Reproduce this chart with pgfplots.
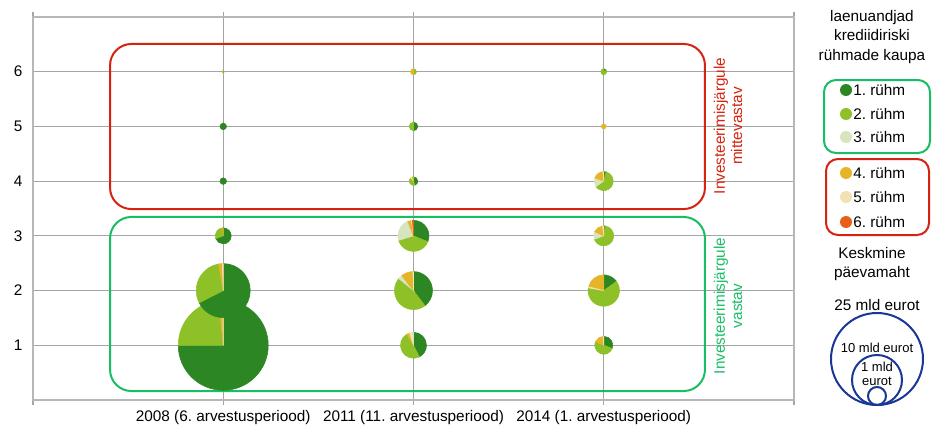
\documentclass[border=0pt]{standalone}
\usepackage{pgfplots}
\pgfplotsset{compat=1.18}
\usepackage{pgfplotstable}
\usepackage{fontspec}
\setmainfont{Liberation Sans}

\definecolor{gA}{RGB}{43,134,35}
\definecolor{gB}{RGB}{141,193,39}
\definecolor{gC}{RGB}{214,229,190}
\definecolor{gD}{RGB}{230,180,40}
\definecolor{gE}{RGB}{243,225,180}
\definecolor{gF}{RGB}{232,96,24}
\definecolor{boxred}{RGB}{212,35,15}
\definecolor{boxgreen}{RGB}{25,190,100}
\definecolor{navy}{RGB}{25,55,150}
\definecolor{gridgray}{RGB}{165,165,165}

% x = category, y = row, r = radius (px), a/b = slice start/end (deg clockwise from 12 o'clock)
\pgfplotstableread{
x y r a b
1 1 45 0 270
1 2 27 0 243
1 3 8 0 250
1 4 3.3 0 360
1 5 3.3 0 360
2 1 13 0 153
2 2 19 0 143
2 3 15.5 0 112
2 4 4.3 0 160
2 5 4.3 0 180
3 1 9 0 110
3 2 15.7 0 54
3 3 10 0 8
3 4 9.5 0 15
3 6 3 0 60
}\gone
\pgfplotstableread{
x y r a b
1 1 45 270 354
1 2 27 243 350
1 3 8 250 355
1 6 1.2 0 360
2 1 13 153 328
2 2 19 143 309
2 3 15.5 112 253
2 4 4.3 160 320
2 5 4.3 180 360
2 6 3 0 180
3 1 9 110 293
3 2 15.7 54 280
3 3 10 8 250
3 4 9.5 15 235
3 6 3 60 360
}\gtwo
\pgfplotstableread{
x y r a b
2 1 13 352 360
2 2 19 309 322
2 3 15.5 253 338
2 4 4.3 320 345
3 3 10 250 295
3 4 9.5 235 290
}\gthree
\pgfplotstableread{
x y r a b
1 1 45 354 359
1 2 27 350 358
1 3 8 355 360
2 1 13 328 342
2 2 19 322 358
2 3 15.5 338 352
2 4 4.3 345 360
2 6 3 180 360
3 1 9 293 355
3 2 15.7 284 360
3 3 10 295 353
3 4 9.5 290 355
3 5 2.5 0 360
}\gfour
\pgfplotstableread{
x y r a b
1 1 45 359 360
1 2 27 358 360
2 1 13 342 352
2 2 19 358 360
2 3 15.5 352 356
3 1 9 355 360
3 2 15.7 280 284
3 3 10 353 360
3 4 9.5 355 360
}\gfive
\pgfplotstableread{
x y r a b
2 3 15.5 356 360
}\gsix

\pgfplotsset{
  pie/.style={
    only marks, scatter, mark=*, mark size=0pt,
    mark options={draw=none,fill=none},
    visualization depends on={\thisrow{r} \as \sR},
    visualization depends on={\thisrow{a} \as \sA},
    visualization depends on={\thisrow{b} \as \sB},
    scatter/@pre marker code/.code={%
      \pgfmathsetmacro\rpt{0.75*\sR}%
      \pgfmathsetmacro\tA{90-\sA}%
      \pgfmathsetmacro\tB{90-\sB}%
      \fill[#1] (0,0) -- (\tA:\rpt pt) arc[start angle=\tA, end angle=\tB, radius=\rpt pt] -- cycle;
    },
    scatter/@post marker code/.code={},
  },
}

\begin{document}
\frenchspacing
\fontsize{11.5}{14}\selectfont
\begin{tikzpicture}
\useasboundingbox (-24.75pt,-19.5pt) rectangle (675pt,300pt);
\begin{axis}[
  scale only axis,
  width=570.75pt, height=287.25pt,
  xmin=0, xmax=4, ymin=0, ymax=7,
  xtick={0,1,2,3,4},
  xticklabels={,2008 (6. arvestusperiood),2011 (11. arvestusperiood),2014 (1. arvestusperiood),},
  ytick={1,2,3,4,5,6},
  xmajorgrids, ymajorgrids,
  grid style={gridgray, line width=0.8pt},
  axis line style={gridgray!80, line width=0.8pt},
  tick align=outside,
  major tick length=4pt,
  xtick style={gridgray, line width=0.8pt},
  ytick style={draw=none},
  ticklabel style={font=\fontsize{11.5}{14}\selectfont},
  /pgf/number format/assume math mode=true,
  clip=false,
]
\draw[boxred, line width=1.5pt, rounded corners=16pt]
  (axis cs:0.405,3.49) rectangle (axis cs:3.532,6.507);
\draw[boxgreen, line width=1.5pt, rounded corners=16pt]
  (axis cs:0.405,0.164) rectangle (axis cs:3.532,3.345);

% first pass: bottom row (so the 2008 row-2 pie sits on top of the row-1 pie)
\addplot[pie=gA, restrict y to domain=0:1.5] table {\gone};
\addplot[pie=gB, restrict y to domain=0:1.5] table {\gtwo};
\addplot[pie=gC, restrict y to domain=0:1.5] table {\gthree};
\addplot[pie=gD, restrict y to domain=0:1.5] table {\gfour};
\addplot[pie=gE, restrict y to domain=0:1.5] table {\gfive};
% second pass: rows 2..6
\addplot[pie=gA, restrict y to domain=1.5:7] table {\gone};
\addplot[pie=gB, restrict y to domain=1.5:7] table {\gtwo};
\addplot[pie=gC, restrict y to domain=1.5:7] table {\gthree};
\addplot[pie=gD, restrict y to domain=1.5:7] table {\gfour};
\addplot[pie=gE, restrict y to domain=1.5:7] table {\gfive};
\addplot[pie=gF, restrict y to domain=1.5:7] table {\gsix};
\end{axis}

\begin{scope}[x=0.75pt, y=0.75pt]
% box captions
\node[rotate=90, align=center, text=boxred, font=\fontsize{11.5}{13}\selectfont]
  at (695,274) {Investeerimisjärgule\\mittevastav};
\node[rotate=90, align=center, text=boxgreen, font=\fontsize{11.5}{13}\selectfont]
  at (695,94) {Investeerimisjärgule\\vastav};

% legend
\node[align=center, font=\fontsize{11.5}{14.6}\selectfont] at (839,363)
  {laenuandjad\\krediidiriski\\rühmade kaupa};
\draw[boxgreen, line width=1.5pt, rounded corners=9pt] (791,320) rectangle (897,247);
\draw[boxred, line width=1.5pt, rounded corners=9pt] (793,241) rectangle (896,165);
\foreach \yy/\cc/\tt in {310/gA/1, 286/gB/2, 263/gC/3, 227/gD/4, 203/gE/5, 178/gF/6}{
  \fill[\cc] (813,\yy) circle[radius=4.5pt];
  \node[anchor=west, inner sep=0pt] at (820,\yy) {\tt. rühm};
}
\node[align=center, font=\fontsize{11.5}{14}\selectfont] at (839,136) {Keskmine\\päevamaht};
\node at (844,95) {25 mld eurot};
\draw[navy, line width=1.5pt] (844,41) circle[radius=34.5pt];
\draw[navy, line width=1.5pt] (844,20) circle[radius=18.75pt];
\draw[navy, line width=1.5pt] (844,4) circle[radius=6.75pt];
\node[font=\fontsize{9.75}{11}\selectfont] at (844,52) {10 mld eurot};
\node[align=center, font=\fontsize{9.75}{10.5}\selectfont] at (844,26) {1 mld\\eurot};
\end{scope}
\end{tikzpicture}
\end{document}
